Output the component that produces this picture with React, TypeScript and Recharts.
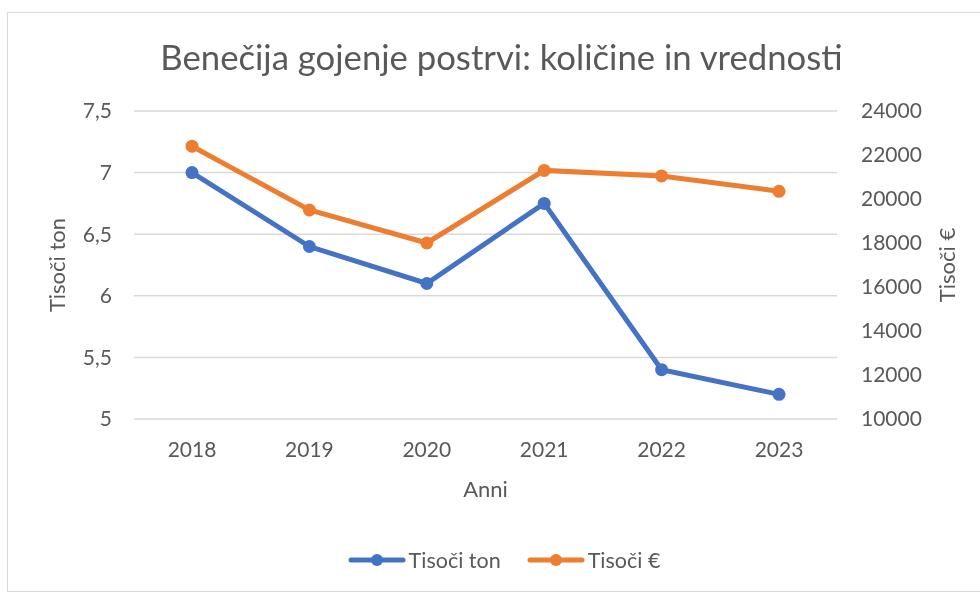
import { CartesianGrid, Legend, Line, LineChart, XAxis, YAxis } from 'recharts'

const years = ['2018', '2019', '2020', '2021', '2022', '2023']
const tonsThousand = [7.0, 6.4, 6.1, 6.75, 5.4, 5.2]
const eurosThousand = [22400, 19500, 18000, 21300, 21050, 20350]
const leftTicks = [5, 5.5, 6, 6.5, 7, 7.5]
const rightTicks = [10000, 12000, 14000, 16000, 18000, 20000, 22000, 24000]

const BLUE = '#4472C4'
const ORANGE = '#ED7D31'
const INK = '#595959'
const GRID = '#d9d9d9'
const FONT = 'Lato, "Open Sans", sans-serif'

const SERIES = [
  { key: 'ton', name: 'Tisoči ton', color: BLUE },
  { key: 'eur', name: 'Tisoči €', color: ORANGE },
]

const data = years.map((year, i) => ({ year, ton: tonsThousand[i], eur: eurosThousand[i] }))

const TICK = { fontSize: 21, fill: INK, fontFamily: FONT }
const AXIS_TITLE = { fontSize: 22, fill: INK, fontFamily: FONT }

function LegendContent() {
  return (
    <div style={{ display: 'flex', justifyContent: 'center', gap: 26, fontFamily: FONT, fontSize: 21.5, color: INK }}>
      {SERIES.map((s) => (
        <span key={s.key} style={{ display: 'flex', alignItems: 'center' }}>
          <svg width={58} height={16}>
            <line x1={3} x2={55} y1={8} y2={8} stroke={s.color} strokeWidth={5} strokeLinecap="round" />
            <circle cx={29} cy={8} r={6} fill={s.color} />
          </svg>
          <span style={{ marginLeft: 3 }}>{s.name}</span>
        </span>
      ))}
    </div>
  )
}

export default function App() {
  return (
    <>
      <div style={{ position: 'fixed', left: 7, top: 12, width: 1000, height: 580, border: `1px solid ${GRID}`, boxSizing: 'border-box' }} />
      <div style={{ position: 'fixed', left: 0, top: 0, width: 980, height: 594 }}>
        <div style={{ position: 'absolute', left: 0, width: 1003, top: 36, textAlign: 'center', fontFamily: FONT, fontSize: 34.7, lineHeight: '42px', color: INK, zIndex: 2, whiteSpace: 'nowrap' }}>
          Benečija gojenje postrvi: količine in vrednosti
        </div>
        <LineChart width={980} height={594} data={data} margin={{ top: 111, right: 63, bottom: 100, left: 59 }}>
          <CartesianGrid yAxisId="left" vertical={false} stroke={GRID} strokeWidth={1.5} />
          <XAxis
            dataKey="year"
            tick={TICK}
            axisLine={false}
            tickLine={false}
            tickMargin={17}
            height={75}
            padding={{ left: 58, right: 58 }}
            label={{ value: 'Anni', position: 'center', dy: 33, style: AXIS_TITLE }}
          />
          <YAxis
            yAxisId="left"
            domain={[5, 7.5]}
            ticks={leftTicks}
            tickFormatter={(v: number) => String(v).replace('.', ',')}
            tick={TICK}
            axisLine={false}
            tickLine={false}
            tickMargin={16}
            width={75}
            label={{ value: 'Tisoči ton', angle: -90, position: 'center', dx: -39, style: AXIS_TITLE }}
          />
          <YAxis
            yAxisId="right"
            orientation="right"
            domain={[10000, 24000]}
            ticks={rightTicks}
            tick={{ ...TICK, textAnchor: 'start' }}
            axisLine={false}
            tickLine={false}
            tickMargin={18}
            width={80}
            label={{ value: 'Tisoči €', angle: -90, position: 'center', dx: 70, style: AXIS_TITLE }}
          />
          <Legend verticalAlign="middle" align="center" layout="horizontal" content={<LegendContent />} wrapperStyle={{ top: 547, left: 0, width: 1008 }} />
          <Line
            yAxisId="left"
            dataKey="ton"
            name="Tisoči ton"
            stroke={BLUE}
            strokeWidth={5}
            dot={{ r: 6.5, fill: BLUE, stroke: BLUE, strokeWidth: 0 }}
            isAnimationActive={false}
          />
          <Line
            yAxisId="right"
            dataKey="eur"
            name="Tisoči €"
            stroke={ORANGE}
            strokeWidth={5}
            dot={{ r: 6.5, fill: ORANGE, stroke: ORANGE, strokeWidth: 0 }}
            isAnimationActive={false}
          />
        </LineChart>
      </div>
    </>
  )
}
